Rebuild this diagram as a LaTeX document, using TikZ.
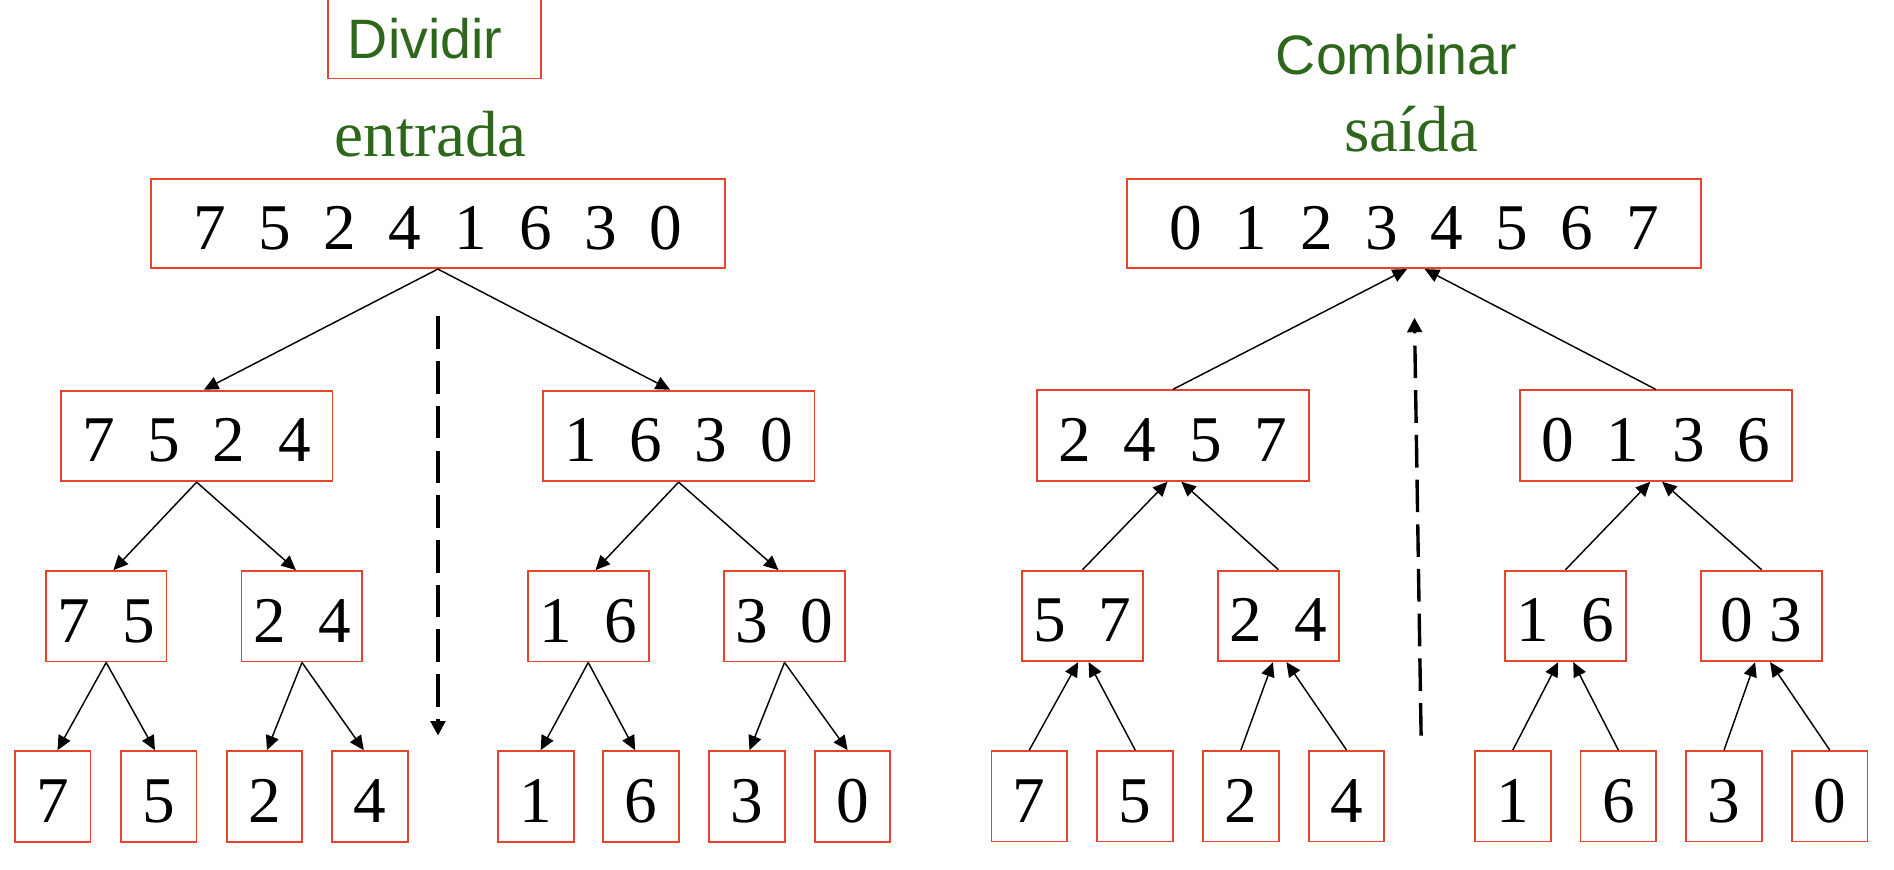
\documentclass[tikz,border=0pt]{standalone}
\usepackage{fontspec}
\setmainfont{Liberation Serif}
\newfontfamily\labelsans{Liberation Sans}
\usetikzlibrary{arrows.meta}
\definecolor{boxred}{RGB}{234,67,44}
\definecolor{labelgreen}{RGB}{45,103,27}

\begin{document}
\begin{tikzpicture}[x=0.5pt,y=-0.5pt,
  numbox/.style={draw=boxred, line width=0.75pt, inner sep=0pt,
    text height=21.5pt, text depth=0pt,
    font=\fontsize{27}{30}\selectfont, minimum height=37.5pt},
  leafbox/.style={numbox, minimum width=31.3pt},
  pairbox/.style={numbox, minimum width=50pt},
  quadbox/.style={numbox, minimum width=112.5pt},
  fullbox/.style={numbox, minimum width=237.5pt, minimum height=37pt},
  greenserif/.style={text=labelgreen, inner sep=0pt, font=\fontsize{27}{30}\selectfont},
  greensans/.style={text=labelgreen, inner sep=0pt, font=\labelsans\fontsize{23}{26}\selectfont},
  link/.style={line width=0.6pt},
  arr/.style={-{Triangle[length=6pt,width=5.5pt]}},
  divider/.style={line width=1.4pt, dash pattern=on 13.5pt off 5pt,
    -{Triangle[length=6pt,width=6pt]}},
]
\useasboundingbox (0,0) rectangle (1568,720);

% ---------- headings ----------
\node[greensans, draw=boxred, line width=0.75pt, minimum width=88.2pt,
      minimum height=33.3pt] (dividir) at (359.7,31.7) {Dividir\hspace*{7.8pt}};
\node[greenserif, anchor=base] (entrada) at (356.6,129.5) {entrada};
\node[greensans, anchor=base] (combinar) at (1156,61.8) {Combinar};
\node[greenserif, anchor=base] (saida) at (1168.4,125.2) {saída};

% ---------- split tree ----------
\node[fullbox] (inL) at (362.5,185) {7~~5~~2~~4~~1~~6~~3~~0};
\node[quadbox] (a) at (162.8,360.9) {7~~5~~2~~4};
\node[quadbox] (b) at (561.8,360.9) {1~~6~~3~~0};
\node[pairbox] (aa) at (87.9,510.2) {7~~5};
\node[pairbox] (ab) at (250,510.2) {2~~4};
\node[pairbox] (ba) at (487,510.2) {1~~6};
\node[pairbox] (bb) at (649.5,510.2) {3~~0};
\node[leafbox] (l1) at (43.6,659.3) {7};
\node[leafbox] (l2) at (131.3,659.3) {5};
\node[leafbox] (l3) at (219,659.3) {2};
\node[leafbox] (l4) at (306.2,659.3) {4};
\node[leafbox] (l5) at (443.6,659.3) {1};
\node[leafbox] (l6) at (530.8,659.3) {6};
\node[leafbox] (l7) at (618.5,659.3) {3};
\node[leafbox] (l8) at (705.7,659.3) {0};

\draw[link,arr] (inL.south) -- ([xshift=3pt]a.north);
\draw[link,arr] (inL.south) -- ([xshift=-3.5pt]b.north);
\draw[link,arr] (a.south) -- ([xshift=3pt]aa.north);
\draw[link,arr] (a.south) -- ([xshift=-2.5pt]ab.north);
\draw[link,arr] (b.south) -- ([xshift=3pt]ba.north);
\draw[link,arr] (b.south) -- ([xshift=-2.5pt]bb.north);
\draw[link,arr] (aa.south) -- ([xshift=2pt]l1.north);
\draw[link,arr] (aa.south) -- ([xshift=-1.5pt]l2.north);
\draw[link,arr] (ab.south) -- ([xshift=1pt]l3.north);
\draw[link,arr] (ab.south) -- ([xshift=-2.5pt]l4.north);
\draw[link,arr] (ba.south) -- ([xshift=2pt]l5.north);
\draw[link,arr] (ba.south) -- ([xshift=-2.5pt]l6.north);
\draw[link,arr] (bb.south) -- ([xshift=1pt]l7.north);
\draw[link,arr] (bb.south) -- ([xshift=-2pt]l8.north);

\coordinate (splitTop) at (362.6,262);
\coordinate (splitEnd) at (362.6,609);
\draw[divider] (splitTop) -- (splitEnd);

% ---------- merge tree ----------
\node[fullbox] (outR) at (1170.8,185) {0~~1~~2~~3~~4~~5~~6~~7};
\node[quadbox] (c) at (971,360.6) {2~~4~~5~~7};
\node[quadbox] (d) at (1370.8,360.6) {0~~1~~3~~6};
\node[pairbox] (ca) at (896.2,509.9) {5~~7};
\node[pairbox] (cb) at (1058.4,509.9) {2~~4};
\node[pairbox] (da) at (1296,509.9) {1~~6};
\node[pairbox] (db) at (1458.4,509.9) {0~3};
\node[leafbox] (r1) at (852.1,659.2) {7};
\node[leafbox] (r2) at (939.8,659.2) {5};
\node[leafbox] (r3) at (1027.3,659.2) {2};
\node[leafbox] (r4) at (1114.8,659.2) {4};
\node[leafbox] (r5) at (1252.4,659.2) {1};
\node[leafbox] (r6) at (1339.8,659.2) {6};
\node[leafbox] (r7) at (1427.3,659.2) {3};
\node[leafbox] (r8) at (1514.8,659.2) {0};

\draw[link,arr] (c.north) -- ([xshift=-3pt]outR.south);
\draw[link,arr] (d.north) -- ([xshift=4.3pt]outR.south);
\draw[link,arr] (ca.north) -- ([xshift=-2.2pt]c.south);
\draw[link,arr] (cb.north) -- ([xshift=3.5pt]c.south);
\draw[link,arr] (da.north) -- ([xshift=-2.3pt]d.south);
\draw[link,arr] (db.north) -- ([xshift=2.6pt]d.south);
\draw[link,arr] (r1.north) -- ([xshift=-1.8pt]ca.south);
\draw[link,arr] (r2.north) -- ([xshift=2.5pt]ca.south);
\draw[link,arr] (r3.north) -- ([xshift=-2.3pt]cb.south);
\draw[link,arr] (r4.north) -- ([xshift=3.3pt]cb.south);
\draw[link,arr] (r5.north) -- ([xshift=-3pt]da.south);
\draw[link,arr] (r6.north) -- ([xshift=3.2pt]da.south);
\draw[link,arr] (r7.north) -- ([xshift=-2.7pt]db.south);
\draw[link,arr] (r8.north) -- ([xshift=3.5pt]db.south);

\coordinate (mergeStart) at (1176.5,609);
\coordinate (mergeTop) at (1171,263);
\draw[divider] (mergeStart) -- (mergeTop);
\end{tikzpicture}
\end{document}
